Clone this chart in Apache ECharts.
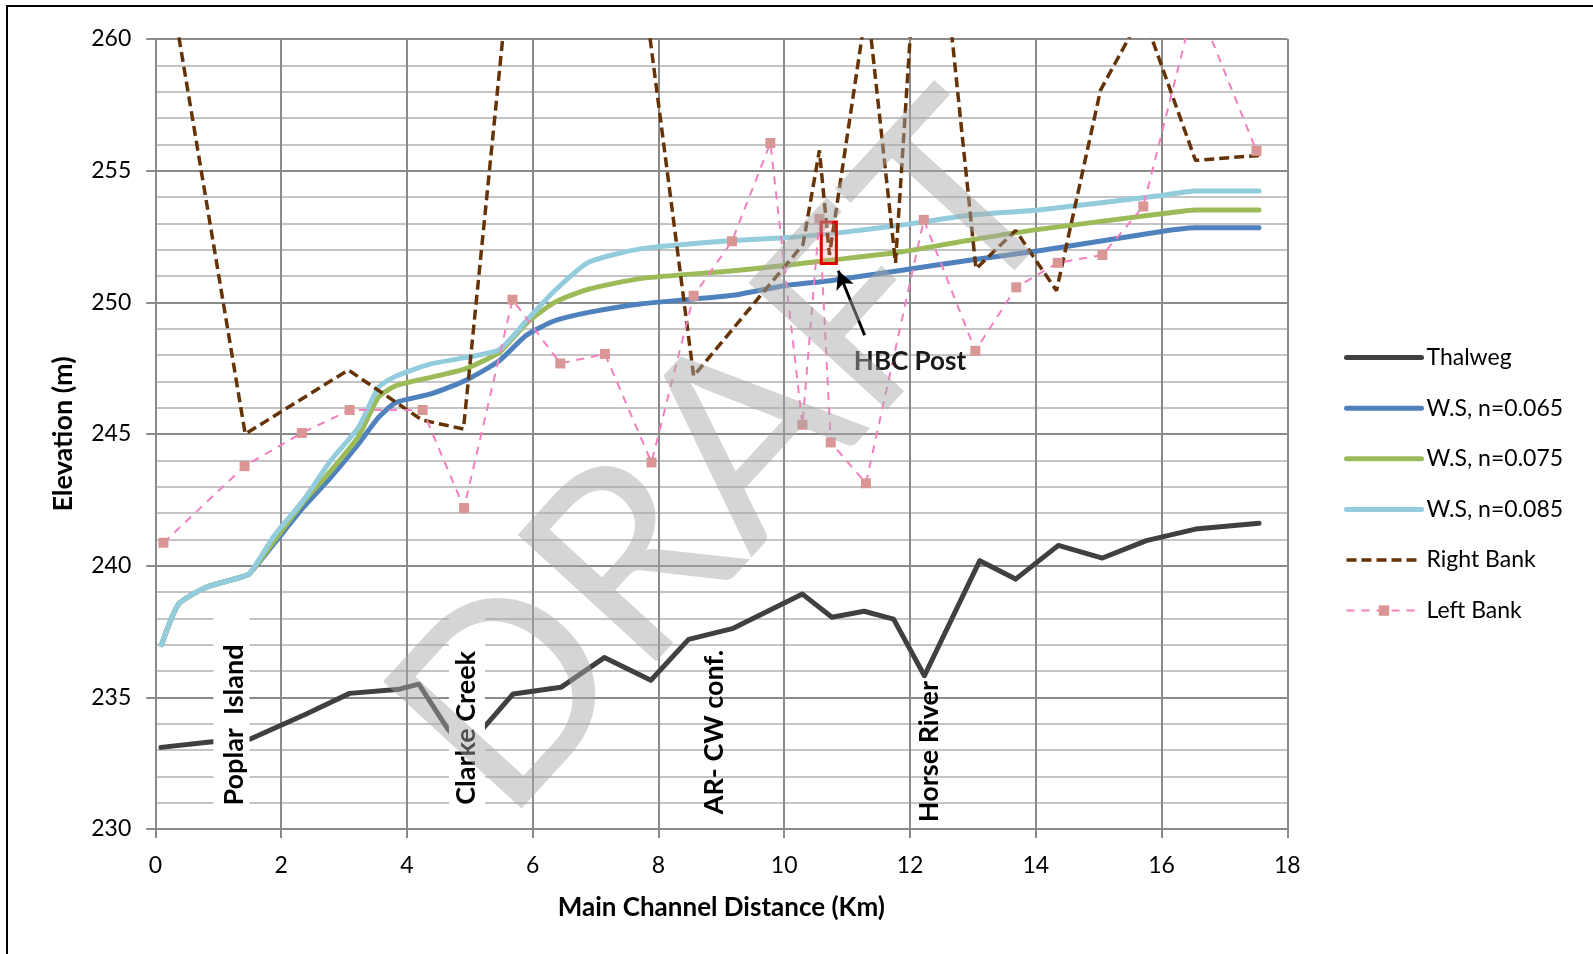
<!DOCTYPE html>
<html><head><meta charset="utf-8">
<script src="https://cdn.jsdelivr.net/npm/echarts@6/dist/echarts.min.js"></script>
<style>html,body{margin:0;padding:0;background:#fff}#c{width:1593px;height:954px}</style>
</head><body><div id="c"></div>
<script>
// ---- data ----
const thalwegX = [0.09,0.87,1.52,1.99,2.4,3.09,3.88,4.19,4.65,4.9,5.23,5.69,6.45,7.14,7.88,8.48,9.19,10.29,10.76,11.27,11.74,12.23,13.11,13.68,14.36,15.06,15.76,16.54,17.55];
const thalwegY = [233.1,233.3,233.43,233.93,234.37,235.15,235.31,235.5,233.8,233.1,233.87,235.13,235.38,236.51,235.65,237.2,237.62,238.92,238.04,238.27,237.97,235.82,240.19,239.49,240.77,240.29,240.95,241.39,241.61];

const wsX = [0.1,0.37,0.81,1.36,1.5,1.91,2.35,2.79,3.23,3.55,3.83,4.38,4.93,5.47,5.9,6.35,6.89,7.71,9.19,10.0,10.73,11.82,12.92,14.08,16.0,16.54,17.55];
const ws065 = [237.0,238.54,239.18,239.56,239.7,240.9,242.2,243.35,244.62,245.63,246.2,246.52,247.03,247.78,248.75,249.3,249.62,249.94,250.27,250.63,250.82,251.2,251.59,251.97,252.69,252.83,252.83];
const ws075 = [237.0,238.54,239.18,239.56,239.7,241.0,242.4,243.6,244.9,246.4,246.84,247.15,247.47,248.1,249.2,250.0,250.5,250.9,251.2,251.4,251.6,251.9,252.35,252.78,253.36,253.51,253.51];
const ws085 = [237.0,238.54,239.18,239.56,239.7,241.2,242.47,243.99,245.25,246.77,247.2,247.66,247.9,248.2,249.3,250.44,251.52,252.03,252.35,252.45,252.6,252.92,253.3,253.52,254.06,254.23,254.23];

const rightBankX = [0.1,1.43,3.07,3.83,4.24,4.9,6.55,8.56,10.3,10.56,10.72,11.32,11.77,12.26,13.05,13.68,14.33,15.03,15.7,16.54,17.55];
const rightBankY = [264.0,245.0,247.43,246.2,245.53,245.19,284.4,247.2,252.2,255.77,251.8,261.4,251.5,269.5,251.27,252.73,250.44,258.06,261.0,255.39,255.58];

const leftBankX = [0.13,1.42,2.33,3.09,4.25,4.91,5.68,6.44,7.15,7.89,8.56,9.17,9.78,10.29,10.56,10.74,11.3,12.22,13.04,13.69,14.35,15.06,15.71,16.54,17.51];
const leftBankY = [240.87,243.78,245.04,245.91,245.91,242.19,250.1,247.68,248.04,243.92,250.25,252.32,256.05,245.35,253.17,244.68,243.13,253.13,248.16,250.57,251.5,251.8,253.64,261.5,255.75];

const seriesNames = ['Thalweg','W.S, n=0.065','W.S, n=0.075','W.S, n=0.085','Right Bank','Left Bank'];

// annotations (data coordinates)
const siteLabels = [
  {name:'Poplar  Island', x:1.25, y:233.95},
  {name:'Clarke Creek', x:4.95, y:233.84},
  {name:'AR- CW conf.', x:8.89, y:233.68},
  {name:'Horse River', x:12.31, y:232.94}
];
const whiteBoxes = [ {x:1.21, y:234.45}, {x:4.955, y:234.45} ];
const hbcLabel = {name:'HBC Post', x:12.0, y:247.75};
const hbcArrow = [[11.28,248.75],[10.86,251.2]];
const hbcRect = [[10.59,253.05],[10.83,251.47]];

const pair = (xs, ys) => xs.map((x,i)=>[x, ys[i]]);
const FONT = 'Lato, Carlito, "Open Sans", sans-serif';

const chart = echarts.init(document.getElementById('c'), null, {renderer:'canvas'});

const markPointData = [];
whiteBoxes.forEach(b => markPointData.push({
  coord:[b.x,b.y], symbol:'rect', symbolSize:[36,203],
  itemStyle:{color:'#ffffff'}, label:{show:false}
}));
siteLabels.forEach(s => markPointData.push({
  coord:[s.x,s.y], symbol:'rect', symbolSize:[2,2],
  itemStyle:{color:'rgba(0,0,0,0)'},
  label:{show:true, position:'inside', formatter:s.name, rotate:90,
    fontFamily:FONT, fontWeight:'bold', fontSize:27, color:'#000'}
}));
markPointData.push({
  coord:[hbcLabel.x,hbcLabel.y], symbol:'rect', symbolSize:[2,2],
  itemStyle:{color:'rgba(0,0,0,0)'},
  label:{show:true, position:'inside', formatter:hbcLabel.name,
    fontFamily:FONT, fontWeight:'bold', fontSize:26, color:'#1a1a1a'}
});

const legendColors = ['#404040','#4F81BD','#9BBB59','#93CDDD','#653306','#F47FC0'];
const legendData = seriesNames.map((n,i) => {
  if (i === 5) return {name:n, lineStyle:{width:2}};
  return {name:n, itemStyle:{opacity:0}, lineStyle:{width: i === 4 ? 3.5 : 5, cap: i === 4 ? 'butt' : 'round'}};
});

const option = {
  animation:false,
  backgroundColor:'#ffffff',
  grid:{left:155.3, right:305.7, top:39, bottom:125, containLabel:false},
  xAxis:{
    type:'value', min:0, max:18, interval:2,
    name:'Main Channel Distance (Km)', nameLocation:'middle', nameGap:66,
    nameTextStyle:{fontFamily:FONT, fontWeight:'bold', fontSize:26, color:'#000'},
    axisLine:{show:true, lineStyle:{color:'#8a8a8a', width:2}},
    axisTick:{show:true, length:9, lineStyle:{color:'#8a8a8a', width:2}},
    axisLabel:{fontFamily:FONT, fontSize:23, color:'#000', margin:25, showMinLabel:true, showMaxLabel:true},
    splitLine:{show:true, lineStyle:{color:'#8a8a8a', width:2}}
  },
  yAxis:{
    type:'value', min:230, max:260, interval:5,
    name:'Elevation (m)', nameLocation:'middle', nameGap:79, nameRotate:90,
    nameTextStyle:{fontFamily:FONT, fontWeight:'bold', fontSize:27, color:'#000'},
    axisLine:{show:true, lineStyle:{color:'#8a8a8a', width:2}},
    axisTick:{show:true, length:9, lineStyle:{color:'#8a8a8a', width:2}},
    axisLabel:{fontFamily:FONT, fontSize:23, color:'#000', margin:24, showMinLabel:true, showMaxLabel:true},
    splitLine:{show:true, lineStyle:{color:'#8a8a8a', width:2}},
    minorTick:{show:false, splitNumber:5},
    minorSplitLine:{show:true, lineStyle:{color:'#c4c4c4', width:2}}
  },
  legend:{
    orient:'vertical', left:1344, top:342.6, padding:0,
    itemWidth:75, itemHeight:13, itemGap:20.6,
    textStyle:{fontFamily:FONT, fontSize:23, color:'#000', lineHeight:30},
    data:legendData
  },
  series:[
    {name:seriesNames[0], type:'line', data:pair(thalwegX, thalwegY), symbol:'none', clip:true,
     lineStyle:{color:legendColors[0], width:5, join:'round', cap:'round'}, itemStyle:{color:legendColors[0]}, z:2,
     markPoint:{z:6, data:markPointData},
     markLine:{z:7, silent:true, symbol:['none','arrow'], symbolSize:[14,18],
       lineStyle:{color:'#000', width:3, type:'solid'}, label:{show:false},
       data:[[{coord:hbcArrow[0]},{coord:hbcArrow[1]}]]},
     markArea:{z:8, silent:true, itemStyle:{color:'rgba(255,150,150,0.25)', borderColor:'#e00000', borderWidth:3},
       data:[[{coord:hbcRect[0]},{coord:hbcRect[1]}]]}
    },
    {name:seriesNames[1], type:'line', data:pair(wsX, ws065), symbol:'none', smooth:0.2, clip:true,
     lineStyle:{color:legendColors[1], width:5, cap:'round', join:'round'}, itemStyle:{color:legendColors[1]}, z:2},
    {name:seriesNames[2], type:'line', data:pair(wsX, ws075), symbol:'none', smooth:0.2, clip:true,
     lineStyle:{color:legendColors[2], width:5, cap:'round', join:'round'}, itemStyle:{color:legendColors[2]}, z:2},
    {name:seriesNames[3], type:'line', data:pair(wsX, ws085), symbol:'none', smooth:0.2, clip:true,
     lineStyle:{color:legendColors[3], width:5, cap:'round', join:'round'}, itemStyle:{color:legendColors[3]}, z:2},
    {name:seriesNames[4], type:'line', data:pair(rightBankX, rightBankY), symbol:'none', clip:true,
     lineStyle:{color:legendColors[4], width:3.5, type:[10,5]}, itemStyle:{color:legendColors[4]}, z:3},
    {name:seriesNames[5], type:'line', data:pair(leftBankX, leftBankY), symbol:'rect', symbolSize:10, showSymbol:true, clip:true,
     lineStyle:{color:legendColors[5], width:2, type:[8,7]}, itemStyle:{color:'#D99694'}, z:4}
  ],
  graphic:[
    {type:'rect', z:100, silent:true, shape:{x:7, y:6, width:1600, height:960},
     style:{fill:'none', stroke:'#000', lineWidth:2}},
    {type:'text', z:90, silent:true, x:728, y:458, rotation:47.5*Math.PI/180,
     style:{text:'DRAFT', fontFamily:FONT, fontSize:262, fill:'rgba(168,168,168,0.48)', align:'center', verticalAlign:'middle'}}
  ]
};
chart.setOption(option);
</script></body></html>
